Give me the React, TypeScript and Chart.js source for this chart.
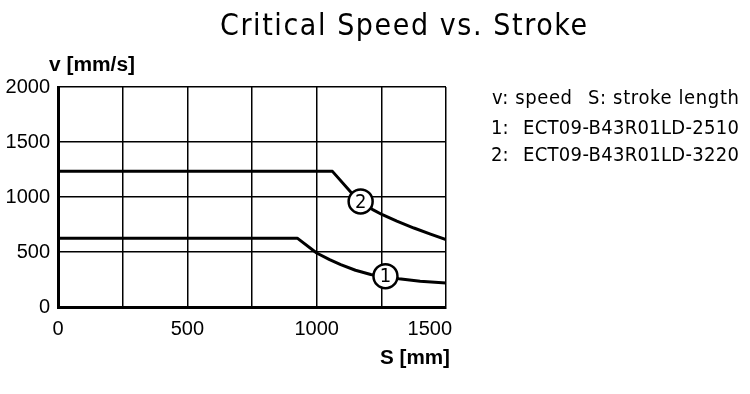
import React, { useEffect, useRef } from 'react';
import { Chart, registerables } from 'chart.js';

Chart.register(...registerables);

const titleText = 'Critical Speed vs. Stroke';
const yAxisTitle = 'v [mm/s]';
const xAxisTitle = 'S [mm]';
const noteHead = ['v: speed', 'S: stroke length'];
const noteNums = ['1:', '2:'];
const noteModels = ['ECT09-B43R01LD-2510', 'ECT09-B43R01LD-3220'];

const series1X = [0, 925, 1000, 1050, 1093, 1150, 1209, 1266, 1318, 1400, 1500];
const series1Y = [626, 626, 491, 430, 385, 334, 296, 273, 256, 234, 218];
const series2X = [0, 1061, 1135, 1170, 1215, 1254, 1310, 1376, 1440, 1500];
const series2Y = [1233, 1233, 1036, 960, 888, 839, 780, 718, 662, 612];

const markerLabels = ['1', '2'];
const markerX = [1266, 1170];
const markerY = [280, 960];

const xMin = 0;
const xMax = 1500;
const xStep = 250;
const xLabelStep = 500;
const yMin = 0;
const yMax = 2000;
const yStep = 500;

const narrow = "'Liberation Sans Narrow', 'DejaVu Sans Condensed', 'Arial Narrow', sans-serif";
const sans = "'Liberation Sans', Arial, sans-serif";

function fillFit(ctx: CanvasRenderingContext2D, text: string, x: number, y: number, w: number) {
  ctx.save();
  ctx.textAlign = 'left';
  const m = ctx.measureText(text).width;
  ctx.translate(x, y);
  ctx.scale(w / m, 1);
  ctx.fillText(text, 0, 0);
  ctx.restore();
}

function fillSpaced(ctx: CanvasRenderingContext2D, text: string, x: number, y: number, w: number) {
  ctx.save();
  ctx.textAlign = 'left';
  (ctx as any).letterSpacing = '0px';
  const m = ctx.measureText(text).width;
  const ls = (w - m) / Math.max(1, text.length - 1);
  (ctx as any).letterSpacing = `${ls}px`;
  ctx.fillText(text, x, y);
  ctx.restore();
}

const overlayPlugin = {
  id: 'overlay',
  afterDatasetsDraw(chart: any) {
    const ctx = chart.ctx;
    const xs = chart.scales.x;
    const ys = chart.scales.y;
    ctx.save();
    for (let i = 0; i < markerLabels.length; i++) {
      const px = xs.getPixelForValue(markerX[i]);
      const py = ys.getPixelForValue(markerY[i]);
      ctx.beginPath();
      ctx.arc(px, py, 12, 0, Math.PI * 2);
      ctx.fillStyle = '#fff';
      ctx.fill();
      ctx.lineWidth = 2.5;
      ctx.strokeStyle = '#000';
      ctx.stroke();
      ctx.fillStyle = '#000';
      ctx.font = `20px ${narrow}`;
      ctx.textAlign = 'center';
      ctx.textBaseline = 'middle';
      ctx.fillText(markerLabels[i], px, py + 1);
    }
    ctx.font = `20px ${sans}`;
    ctx.textBaseline = 'middle';
    const ticks = xs.ticks.filter((t: any) => t.value % xLabelStep === 0);
    ticks.forEach((t: any, i: number) => {
      const px = xs.getPixelForValue(t.value);
      if (i === ticks.length - 1) {
        ctx.textAlign = 'right';
        ctx.fillText(String(t.value), px + 6, 329);
      } else {
        ctx.textAlign = 'center';
        ctx.fillText(String(t.value), px, 329);
      }
    });
    ctx.restore();
  },
  afterDraw(chart: any) {
    const ctx = chart.ctx;
    ctx.save();
    ctx.fillStyle = '#000';
    ctx.textBaseline = 'alphabetic';
    ctx.font = `30px ${narrow}`;
    fillSpaced(ctx, titleText, 220, 35, 367);
    ctx.font = `bold 20px ${sans}`;
    fillFit(ctx, yAxisTitle, 49, 71, 86);
    fillFit(ctx, xAxisTitle, 380, 363.5, 70);
    ctx.font = `20px ${narrow}`;
    fillSpaced(ctx, noteHead[0], 492, 103.5, 80);
    fillSpaced(ctx, noteHead[1], 588, 103.5, 151);
    ctx.textAlign = 'left';
    ctx.fillText(noteNums[0], 491, 133.5);
    fillSpaced(ctx, noteModels[0], 523, 133.5, 216);
    ctx.fillText(noteNums[1], 491, 160.5);
    fillSpaced(ctx, noteModels[1], 523, 160.5, 216);
    ctx.restore();
  },
};

export default function App() {
  const ref = useRef<HTMLCanvasElement>(null);
  useEffect(() => {
    if (!ref.current) return;
    const mk = (xs: number[], ys: number[], label: string) => ({
      label,
      data: xs.map((x, i) => ({ x, y: ys[i] })),
      borderColor: '#000',
      borderWidth: 3,
      borderJoinStyle: 'round' as const,
      pointRadius: 0,
      fill: false,
      tension: 0,
    });
    const chart = new Chart(ref.current, {
      type: 'line',
      data: {
        datasets: [mk(series1X, series1Y, '1'), mk(series2X, series2Y, '2')],
      },
      options: {
        animation: false,
        responsive: false,
        maintainAspectRatio: false,
        layout: { padding: { top: 87, left: 0, right: 304, bottom: 57 } },
        plugins: { legend: { display: false }, tooltip: { enabled: false }, title: { display: false } },
        scales: {
          x: {
            type: 'linear',
            min: xMin,
            max: xMax,
            ticks: { stepSize: xStep, display: false },
            grid: { color: '#000', lineWidth: 1.5, drawTicks: false },
            border: { color: '#000', width: 3 },
            afterFit: (s: any) => { s.height = 30; },
          },
          y: {
            type: 'linear',
            min: yMin,
            max: yMax,
            ticks: {
              stepSize: yStep,
              color: '#000',
              font: { size: 20, family: sans },
              padding: 8,
              callback: (v: any) => String(v),
            },
            grid: { color: '#000', lineWidth: 1.5, drawTicks: false },
            border: { color: '#000', width: 3 },
            afterFit: (s: any) => { s.width = 58; },
          },
        },
      },
      plugins: [overlayPlugin],
    });
    return () => chart.destroy();
  }, []);
  return (
    <div style={{ position: 'absolute', left: 0, top: 0, width: 750, height: 394, background: '#fff' }}>
      <canvas ref={ref} width={750} height={394} style={{ width: 750, height: 394, display: 'block' }} />
    </div>
  );
}
